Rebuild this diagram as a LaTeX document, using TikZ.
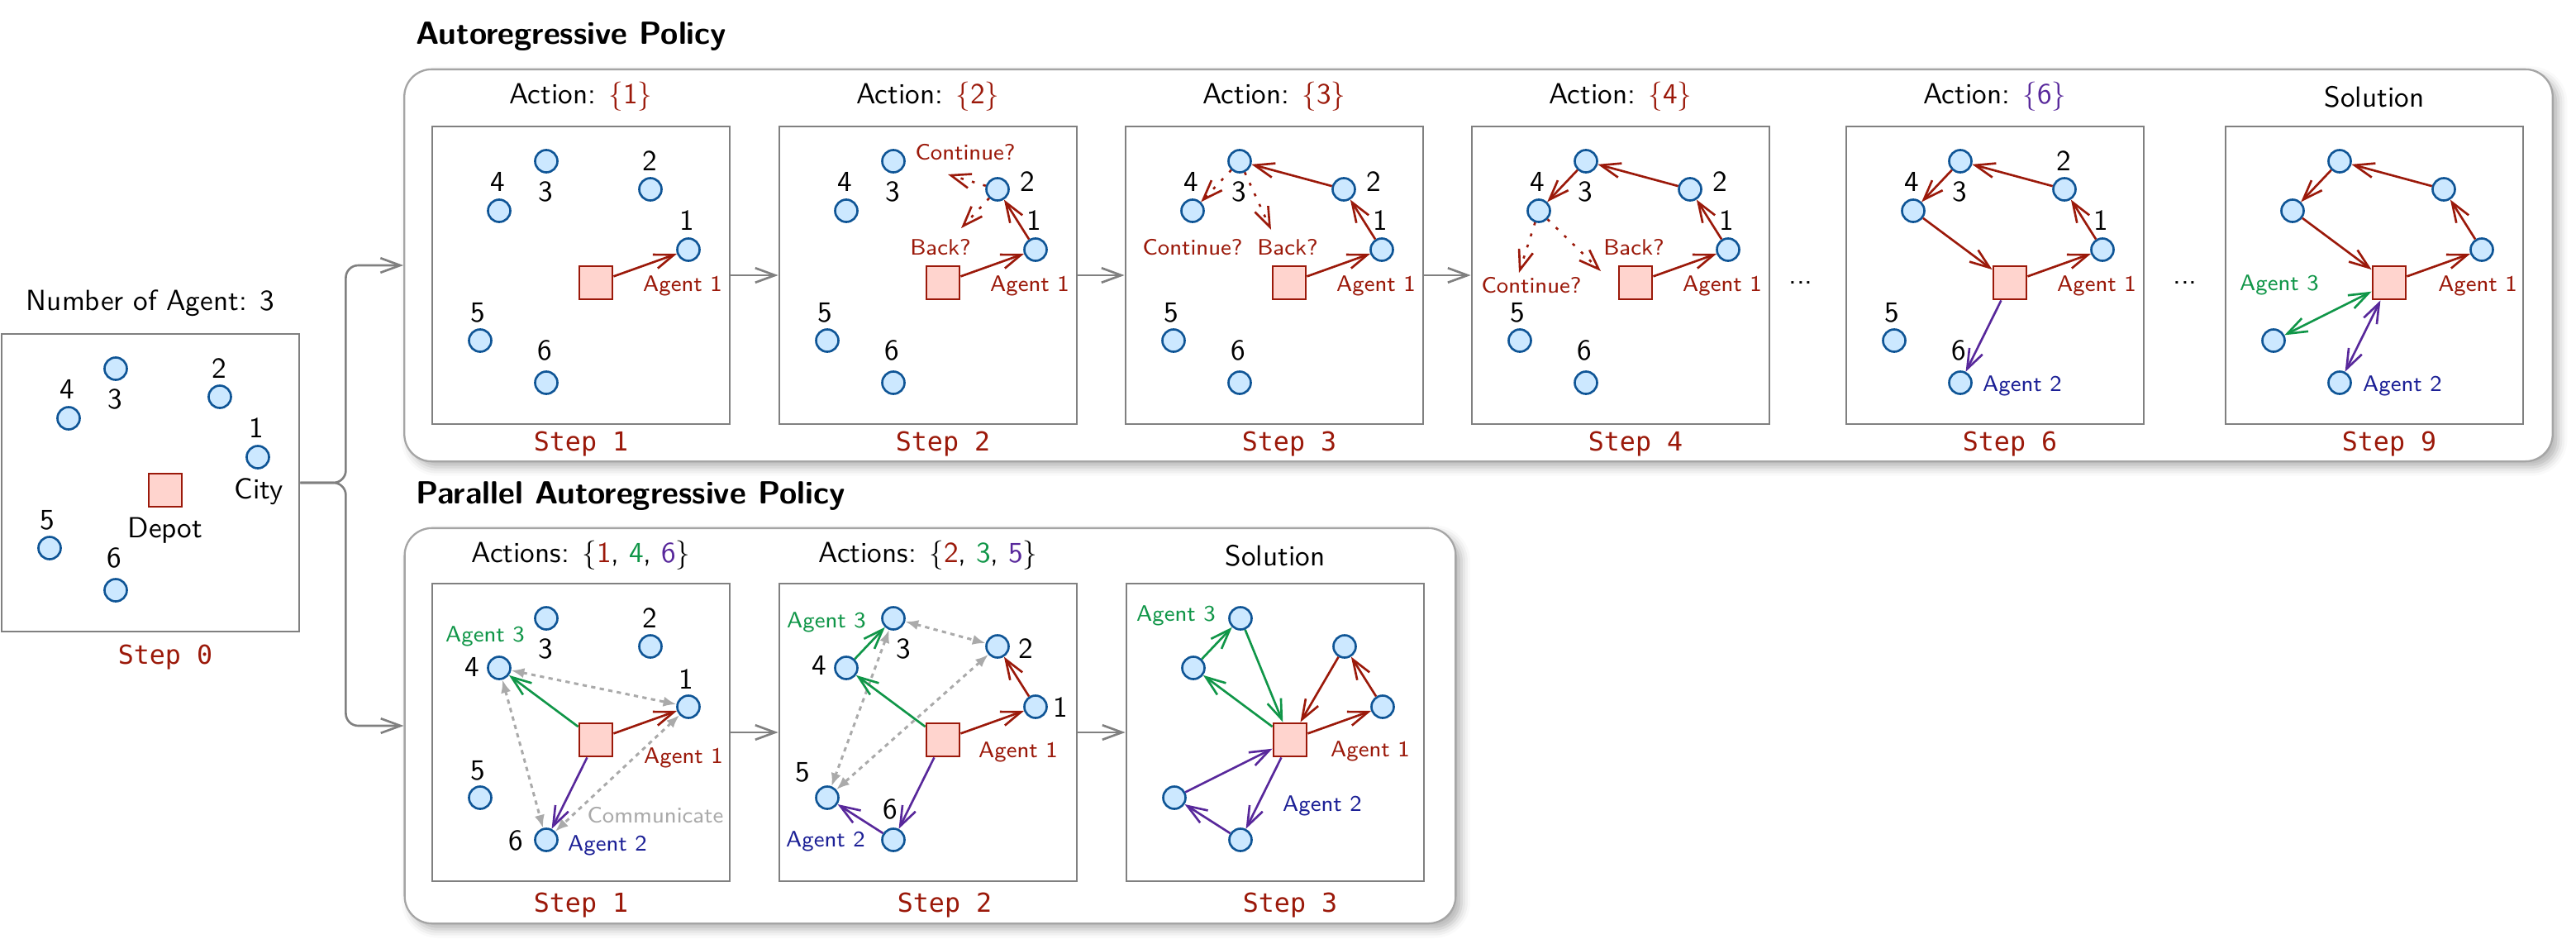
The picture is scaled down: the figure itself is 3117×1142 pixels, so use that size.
\documentclass[tikz,border=0pt]{standalone}
\usepackage{fontspec}
\setmonofont{DejaVu Sans Mono}
\usetikzlibrary{arrows.meta,shadows.blur}
\definecolor{ared}{RGB}{155,25,10}
\definecolor{agreen}{RGB}{16,150,72}
\definecolor{apurple}{RGB}{88,40,155}
\definecolor{ablue}{RGB}{28,32,150}
\definecolor{cityfill}{RGB}{204,232,255}
\definecolor{cityborder}{RGB}{15,85,150}
\definecolor{depotfill}{RGB}{255,212,206}
\definecolor{boxgray}{RGB}{128,128,128}
\definecolor{framegray}{RGB}{165,165,165}
\definecolor{commgray}{RGB}{170,170,170}
\newcommand\placecities[1]{%
  \node[city] (#1c1) at (310,149) {};
  \node[city] (#1c2) at (264,76) {};
  \node[city] (#1c3) at (138,42) {};
  \node[city] (#1c4) at (81,102) {};
  \node[city] (#1c5) at (58,259) {};
  \node[city] (#1c6) at (138,310) {};
  \node[depot] (#1d) at (198,189) {};
}
\begin{document}
\begin{tikzpicture}[x=0.01cm,y=-0.01cm,font=\sffamily,
  >={Straight Barb[length=6.8pt,width=5pt]},
  city/.style={circle,draw=cityborder,fill=cityfill,line width=0.75pt,minimum size=0.27cm,inner sep=0pt},
  depot/.style={rectangle,draw=ared,fill=depotfill,line width=0.8pt,minimum size=0.4cm,inner sep=0pt},
  stepbox/.style={rectangle,draw=boxgray,line width=0.75pt,fill=white,minimum size=3.6cm,inner sep=0pt},
  frame/.style={rectangle,draw=framegray,line width=0.65pt,fill=white,rounded corners=0.33cm,inner sep=0pt,
    blur shadow={shadow xshift=2pt,shadow yshift=-2pt,shadow blur radius=3pt,shadow opacity=30}},
  conn/.style={draw=boxgray,line width=0.75pt,->},
  rarr/.style={draw=ared,line width=0.75pt,->},
  garr/.style={draw=agreen,line width=0.75pt,->},
  parr/.style={draw=apurple,line width=0.75pt,->},
  rdot/.style={rarr,dash pattern=on 1pt off 3pt},
  comm/.style={draw=commgray,line width=0.85pt,dash pattern=on 1.5pt off 1.5pt,
    {Latex[length=4.5pt,width=3.5pt]}-{Latex[length=4.5pt,width=3.5pt]}},
  numlab/.style={font=\sffamily\fontsize{10}{12}\selectfont,inner sep=0pt},
  small/.style={font=\sffamily\fontsize{7.7}{9}\selectfont,inner sep=0pt},
  head/.style={font=\sffamily\fontsize{10}{12}\selectfont,inner sep=0pt},
  steplab/.style={font=\ttfamily\fontsize{9}{11}\selectfont,text=ared,inner sep=0pt},
  ttl/.style={font=\sffamily\bfseries\fontsize{11}{13}\selectfont,anchor=west,inner sep=0pt}]
\useasboundingbox (0,0) rectangle (3117,1142);

% frames
\node[frame,minimum width=25.98cm,minimum height=4.74cm] (TF) at (1789,321) {};
\node[frame,minimum width=12.71cm,minimum height=4.78cm] (BF) at (1125.5,878) {};
\node[ttl] (TT) at (503,44) {Autoregressive Policy};
\node[ttl] (BT) at (503,600) {Parallel Autoregressive Policy};

% ---------- Step 0
\begin{scope}[shift={(2,404)}]
 \node[stepbox] (S0box) at (180,180) {};
 \placecities{S0}
 \node[head] (S0head) at (180,-37) {Number of Agent: 3};
 \node[steplab] (S0step) at (198,391) {Step 0};
 \node[numlab] (S0n4) at (79,67) {4};
 \node[numlab] (S0n3) at (137,79) {3};
 \node[numlab] (S0n2) at (263,42) {2};
 \node[numlab] (S0n1) at (308,114) {1};
 \node[numlab] (S0n5) at (55,225) {5};
 \node[numlab] (S0n6) at (136,271) {6};
 \node[numlab] (S0city) at (311,191) {City};
 \node[numlab] (S0depot) at (198,238) {Depot};
\end{scope}

% ---------- Top step 1
\begin{scope}[shift={(523,153)}]
 \node[stepbox] (T1box) at (180,180) {};
 \placecities{T1}
 \node[head] (T1head) at (180,-36) {Action: \textcolor{ared}{$\{$1$\}$}};
 \node[steplab] (T1step) at (180,384) {Step 1};
 \node[numlab] (T1n4) at (79,67) {4};
 \node[numlab] (T1n3) at (137,79) {3};
 \node[numlab] (T1n2) at (263,42) {2};
 \node[numlab] (T1n1) at (308,114) {1};
 \node[numlab] (T1n5) at (55,225) {5};
 \node[numlab] (T1n6) at (136,271) {6};
 \node[small,text=ared] (T1a1) at (303,193) {Agent 1};
 \draw[rarr] (T1d) -- (T1c1);
\end{scope}

% ---------- Top step 2
\begin{scope}[shift={(943,153)}]
 \node[stepbox] (T2box) at (180,180) {};
 \placecities{T2}
 \node[head] (T2head) at (180,-36) {Action: \textcolor{ared}{$\{$2$\}$}};
 \node[steplab] (T2step) at (198,384) {Step 2};
 \node[numlab] (T2n4) at (79,67) {4};
 \node[numlab] (T2n3) at (137,79) {3};
 \node[numlab] (T2n2) at (300,67) {2};
 \node[numlab] (T2n1) at (308,114) {1};
 \node[numlab] (T2n5) at (55,225) {5};
 \node[numlab] (T2n6) at (136,271) {6};
 \node[small,text=ared] (T2a1) at (303,193) {Agent 1};
 \node[small,text=ared] (T2cont) at (225,31) {Continue?};
 \node[small,text=ared] (T2back) at (195,146) {Back?};
 \coordinate (T2e1) at (204,58);
 \coordinate (T2e2) at (220,123);
 \draw[rarr] (T2d) -- (T2c1);
 \draw[rarr] (T2c1) -- (T2c2);
 \draw[rdot] (T2c2) -- (T2e1);
 \draw[rdot] (T2c2) -- (T2e2);
\end{scope}

% ---------- Top step 3
\begin{scope}[shift={(1362,153)}]
 \node[stepbox] (T3box) at (180,180) {};
 \placecities{T3}
 \node[head] (T3head) at (180,-36) {Action: \textcolor{ared}{$\{$3$\}$}};
 \node[steplab] (T3step) at (198,384) {Step 3};
 \node[numlab] (T3n4) at (79,67) {4};
 \node[numlab] (T3n3) at (137,79) {3};
 \node[numlab] (T3n2) at (300,67) {2};
 \node[numlab] (T3n1) at (308,114) {1};
 \node[numlab] (T3n5) at (55,225) {5};
 \node[numlab] (T3n6) at (136,271) {6};
 \node[small,text=ared] (T3a1) at (303,193) {Agent 1};
 \node[small,text=ared] (T3cont) at (81,146) {Continue?};
 \node[small,text=ared] (T3back) at (196,146) {Back?};
 \coordinate (T3e2) at (176,125);
 \draw[rarr] (T3d) -- (T3c1);
 \draw[rarr] (T3c1) -- (T3c2);
 \draw[rarr] (T3c2) -- (T3c3);
 \draw[rdot] (T3c3) -- (T3c4);
 \draw[rdot] (T3c3) -- (T3e2);
\end{scope}

% ---------- Top step 4
\begin{scope}[shift={(1781,153)}]
 \node[stepbox] (T4box) at (180,180) {};
 \placecities{T4}
 \node[head] (T4head) at (180,-36) {Action: \textcolor{ared}{$\{$4$\}$}};
 \node[steplab] (T4step) at (198,384) {Step 4};
 \node[numlab] (T4n4) at (79,67) {4};
 \node[numlab] (T4n3) at (137,79) {3};
 \node[numlab] (T4n2) at (300,67) {2};
 \node[numlab] (T4n1) at (308,114) {1};
 \node[numlab] (T4n5) at (55,225) {5};
 \node[numlab] (T4n6) at (136,271) {6};
 \node[small,text=ared] (T4a1) at (303,193) {Agent 1};
 \node[small,text=ared] (T4cont) at (72,192) {Continue?};
 \node[small,text=ared] (T4back) at (196,146) {Back?};
 \coordinate (T4e1) at (57,177);
 \coordinate (T4e2) at (156,175);
 \draw[rarr] (T4d) -- (T4c1);
 \draw[rarr] (T4c1) -- (T4c2);
 \draw[rarr] (T4c2) -- (T4c3);
 \draw[rarr] (T4c3) -- (T4c4);
 \draw[rdot] (T4c4) -- (T4e1);
 \draw[rdot] (T4c4) -- (T4e2);
\end{scope}

\node[head] (dotsA) at (2179,342) {...};
\node[head] (dotsB) at (2644,342) {...};

% ---------- Top step 6
\begin{scope}[shift={(2234,153)}]
 \node[stepbox] (T6box) at (180,180) {};
 \placecities{T6}
 \node[head] (T6head) at (180,-36) {Action: \textcolor{apurple}{$\{$6$\}$}};
 \node[steplab] (T6step) at (198,384) {Step 6};
 \node[numlab] (T6n4) at (79,67) {4};
 \node[numlab] (T6n3) at (137,79) {3};
 \node[numlab] (T6n2) at (263,42) {2};
 \node[numlab] (T6n1) at (308,114) {1};
 \node[numlab] (T6n5) at (55,225) {5};
 \node[numlab] (T6n6) at (136,271) {6};
 \node[small,text=ared] (T6a1) at (303,193) {Agent 1};
 \node[small,text=ablue] (T6a2) at (213,314) {Agent 2};
 \draw[rarr] (T6d) -- (T6c1);
 \draw[rarr] (T6c1) -- (T6c2);
 \draw[rarr] (T6c2) -- (T6c3);
 \draw[rarr] (T6c3) -- (T6c4);
 \draw[rarr] (T6c4) -- (T6d);
 \draw[parr] (T6d) -- (T6c6);
\end{scope}

% ---------- Top step 9
\begin{scope}[shift={(2693,153)}]
 \node[stepbox] (T9box) at (180,180) {};
 \placecities{T9}
 \node[head] (T9head) at (180,-36) {Solution};
 \node[steplab] (T9step) at (198,384) {Step 9};
 \node[small,text=ared] (T9a1) at (305,193) {Agent 1};
 \node[small,text=agreen] (T9a3) at (65,192) {Agent 3};
 \node[small,text=ablue] (T9a2) at (214,314) {Agent 2};
 \draw[rarr] (T9d) -- (T9c1);
 \draw[rarr] (T9c1) -- (T9c2);
 \draw[rarr] (T9c2) -- (T9c3);
 \draw[rarr] (T9c3) -- (T9c4);
 \draw[rarr] (T9c4) -- (T9d);
 \draw[garr,<->] (T9d) -- (T9c5);
 \draw[parr,<->] (T9d) -- (T9c6);
\end{scope}

% ---------- Bottom step 1
\begin{scope}[shift={(523,706)}]
 \node[stepbox] (B1box) at (180,180) {};
 \placecities{B1}
 \node[head] (B1head) at (180,-34) {Actions: $\{$\textcolor{ared}{1}, \textcolor{agreen}{4}, \textcolor{apurple}{6}$\}$};
 \node[steplab] (B1step) at (180,389) {Step 1};
 \node[numlab] (B1n4) at (48,101) {4};
 \node[numlab] (B1n3) at (137,79) {3};
 \node[numlab] (B1n2) at (263,42) {2};
 \node[numlab] (B1n1) at (307,116) {1};
 \node[numlab] (B1n5) at (55,226) {5};
 \node[numlab] (B1n6) at (101,311) {6};
 \node[small,text=agreen] (B1a3) at (64,64) {Agent 3};
 \node[small,text=ared] (B1a1) at (304,211) {Agent 1};
 \node[small,text=ablue] (B1a2) at (212,317) {Agent 2};
 \node[small,text=commgray] (B1com) at (270,280) {Communicate};
 \draw[comm] (B1c4) -- (B1c1);
 \draw[comm] (B1c4) -- (B1c6);
 \draw[comm] (B1c1) -- (B1c6);
 \draw[rarr] (B1d) -- (B1c1);
 \draw[garr] (B1d) -- (B1c4);
 \draw[parr] (B1d) -- (B1c6);
\end{scope}

% ---------- Bottom step 2
\begin{scope}[shift={(943,706)}]
 \node[stepbox] (B2box) at (180,180) {};
 \placecities{B2}
 \node[head] (B2head) at (180,-34) {Actions: $\{$\textcolor{ared}{2}, \textcolor{agreen}{3}, \textcolor{apurple}{5}$\}$};
 \node[steplab] (B2step) at (200,389) {Step 2};
 \node[numlab] (B2n4) at (48,99) {4};
 \node[numlab] (B2n3) at (150,79) {3};
 \node[numlab] (B2n2) at (298,79) {2};
 \node[numlab] (B2n1) at (340,150) {1};
 \node[numlab] (B2n5) at (28,228) {5};
 \node[numlab] (B2n6) at (134,273) {6};
 \node[small,text=agreen] (B2a3) at (57,47) {Agent 3};
 \node[small,text=ared] (B2a1) at (289,204) {Agent 1};
 \node[small,text=ablue] (B2a2) at (56,312) {Agent 2};
 \draw[comm] (B2c3) -- (B2c2);
 \draw[comm] (B2c3) -- (B2c5);
 \draw[comm] (B2c2) -- (B2c5);
 \draw[rarr] (B2d) -- (B2c1);
 \draw[rarr] (B2c1) -- (B2c2);
 \draw[garr] (B2d) -- (B2c4);
 \draw[garr] (B2c4) -- (B2c3);
 \draw[parr] (B2d) -- (B2c6);
 \draw[parr] (B2c6) -- (B2c5);
\end{scope}

% ---------- Bottom step 3
\begin{scope}[shift={(1363,706)}]
 \node[stepbox] (B3box) at (180,180) {};
 \placecities{B3}
 \node[head] (B3head) at (180,-34) {Solution};
 \node[steplab] (B3step) at (198,389) {Step 3};
 \node[small,text=agreen] (B3a3) at (60,39) {Agent 3};
 \node[small,text=ared] (B3a1) at (295,203) {Agent 1};
 \node[small,text=ablue] (B3a2) at (237,269) {Agent 2};
 \draw[rarr] (B3d) -- (B3c1);
 \draw[rarr] (B3c1) -- (B3c2);
 \draw[rarr] (B3c2) -- (B3d);
 \draw[garr] (B3d) -- (B3c4);
 \draw[garr] (B3c4) -- (B3c3);
 \draw[garr] (B3c3) -- (B3d);
 \draw[parr] (B3d) -- (B3c6);
 \draw[parr] (B3c6) -- (B3c5);
 \draw[parr] (B3c5) -- (B3d);
\end{scope}

% ---------- connectors
\draw[conn] (T1box) -- (T2box);
\draw[conn] (T2box) -- (T3box);
\draw[conn] (T3box) -- (T4box);
\draw[conn] (B1box) -- (B2box);
\draw[conn] (B2box) -- (B3box);
\path (S0box.east) ++(55,0) coordinate (br);
\draw[conn,rounded corners=0.15cm] (S0box.east) -- (br) |- (TF.west);
\draw[conn,rounded corners=0.15cm] (S0box.east) -- (br) |- (BF.west);
\end{tikzpicture}
\end{document}
